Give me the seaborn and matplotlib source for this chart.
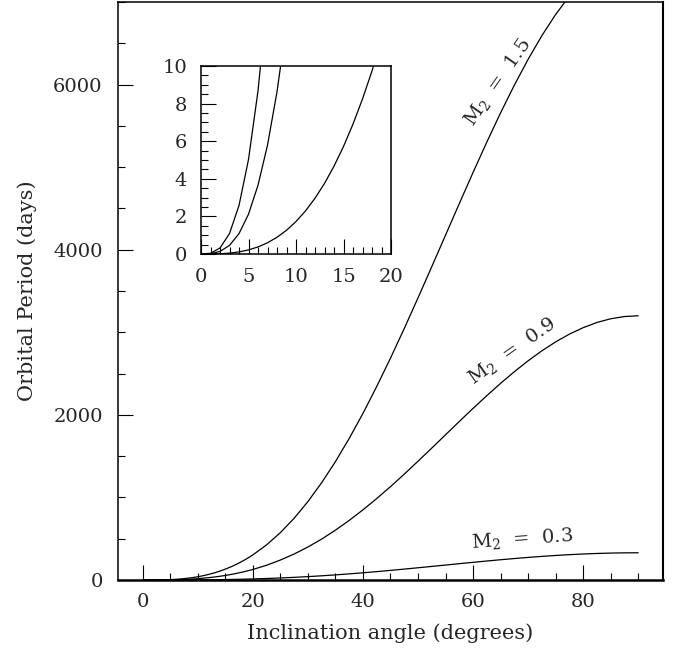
import numpy as np
import pandas as pd
import matplotlib
matplotlib.use("Agg")
import matplotlib.pyplot as plt
from matplotlib.ticker import MultipleLocator
import seaborn as sns

# ---- data ----
incl = [0, 1, 2, 3, 4, 5, 6, 7, 8, 9, 10, 11, 12, 13, 14, 15, 16, 17, 18, 19, 20,
        22.5, 25, 27.5, 30, 32.5, 35, 37.5, 40, 42.5, 45, 47.5, 50, 52.5, 55, 57.5,
        60, 62.5, 65, 67.5, 70, 72.5, 75, 77.5, 80, 82.5, 85, 87.5, 90]

period_m15 = [0, 0.04, 0.32, 1.09, 2.58, 5.03, 8.68, 13.76, 20.5, 29.1, 39.8, 52.8,
              68.3, 86.5, 107.6, 131.8, 159.2, 189.9, 224.3, 262.3, 304.1,
              426, 574, 748, 950, 1179, 1434, 1715, 2018, 2344, 2687, 3046, 3417,
              3795, 4177, 4559, 4936, 5304, 5658, 5993, 6306, 6593, 6849, 7072,
              7259, 7407, 7514, 7578, 7600]

period_m09 = [0, 0.017, 0.136, 0.459, 1.086, 2.12, 3.66, 5.79, 8.63, 12.25, 16.76,
              22.2, 28.8, 36.4, 45.3, 55.5, 67.0, 80.0, 94.4, 110.4, 128.0,
              179, 242, 315, 400, 496, 604, 722, 850, 987, 1131, 1282, 1439,
              1598, 1759, 1920, 2079, 2233, 2382, 2523, 2655, 2776, 2884, 2978,
              3056, 3119, 3164, 3191, 3200]

period_m03 = [0, 0.002, 0.014, 0.047, 0.112, 0.218, 0.377, 0.597, 0.89, 1.263, 1.728,
              2.293, 2.966, 3.756, 4.672, 5.721, 6.911, 8.248, 9.738, 11.39, 13.20,
              18.5, 24.9, 32.5, 41.3, 51.2, 62.3, 74.5, 87.6, 101.8, 116.7, 132.3,
              148.4, 164.8, 181.4, 198.0, 214.3, 230.3, 245.7, 260.2, 273.8, 286.3,
              297.4, 307.1, 315.2, 321.6, 326.3, 329.1, 330]

curve_labels = ["1.5", "0.9", "0.3"]

df = pd.concat([
    pd.DataFrame({"incl": incl, "period": period_m15, "m2": curve_labels[0]}),
    pd.DataFrame({"incl": incl, "period": period_m09, "m2": curve_labels[1]}),
    pd.DataFrame({"incl": incl, "period": period_m03, "m2": curve_labels[2]}),
], ignore_index=True)

# ---- style ----
sns.set_style("ticks")
plt.rcParams["font.family"] = ["DejaVu Serif"]
plt.rcParams["mathtext.fontset"] = "dejavuserif"
FS = 14
LFS = 15

fig = plt.figure(figsize=(6.8, 6.48), dpi=100)
ax = fig.add_axes([0.1735, 0.1049, 0.8015, 0.892])

sns.lineplot(data=df, x="incl", y="period", units="m2", estimator=None,
             color="black", lw=0.9, ax=ax, legend=False, sort=False)

ax.set_xlim(-4.5, 94.5)
ax.set_ylim(0, 7000)
ax.xaxis.set_major_locator(MultipleLocator(20))
ax.xaxis.set_minor_locator(MultipleLocator(5))
ax.yaxis.set_major_locator(MultipleLocator(2000))
ax.yaxis.set_minor_locator(MultipleLocator(500))
ax.tick_params(which="both", direction="in", top=False, right=False,
               color="black", width=0.8, labelsize=FS)
ax.tick_params(which="major", length=11)
ax.tick_params(which="minor", length=5)
ax.tick_params(axis="y", which="major", pad=11)
ax.tick_params(axis="x", which="major", pad=9)
for side in ["left", "top"]:
    ax.spines[side].set_linewidth(1.1)
ax.spines["bottom"].set_linewidth(1.8)
ax.spines["right"].set_linewidth(1.5)
for s in ax.spines.values():
    s.set_color("black")

ax.set_xlabel("Inclination angle (degrees)", fontsize=LFS, labelpad=9)
ax.set_ylabel("Orbital Period (days)", fontsize=LFS, labelpad=12)

# curve labels
ax.text(64.4, 6030, r"M$_2$  =  1.5", rotation=55, fontsize=FS,
        ha="center", va="center", rotation_mode="anchor")
ax.text(67.1, 2770, r"M$_2$  =  0.9", rotation=35, fontsize=FS,
        ha="center", va="center", rotation_mode="anchor")
ax.text(68.9, 500, r"M$_2$  =  0.3", rotation=4, fontsize=FS,
        ha="center", va="center", rotation_mode="anchor")

# ---- inset ----
axin = fig.add_axes([0.2956, 0.608, 0.2794, 0.2901])
sns.lineplot(data=df, x="incl", y="period", units="m2", estimator=None,
             color="black", lw=0.9, ax=axin, legend=False, sort=False)
axin.set_xlim(0, 20)
axin.set_ylim(0, 10)
axin.xaxis.set_major_locator(MultipleLocator(5))
axin.xaxis.set_minor_locator(MultipleLocator(1))
axin.yaxis.set_major_locator(MultipleLocator(2))
axin.yaxis.set_minor_locator(MultipleLocator(0.5))
axin.tick_params(which="both", direction="in", top=False, right=False,
                 color="black", width=0.8, labelsize=FS)
axin.tick_params(which="major", length=11)
axin.tick_params(which="minor", length=5)
axin.tick_params(axis="y", which="major", pad=10)
axin.tick_params(axis="x", which="major", pad=10)
axin.set_xlabel("")
axin.set_ylabel("")
for s in axin.spines.values():
    s.set_linewidth(1.1)
    s.set_color("black")

fig.savefig("out.png", dpi=100)
